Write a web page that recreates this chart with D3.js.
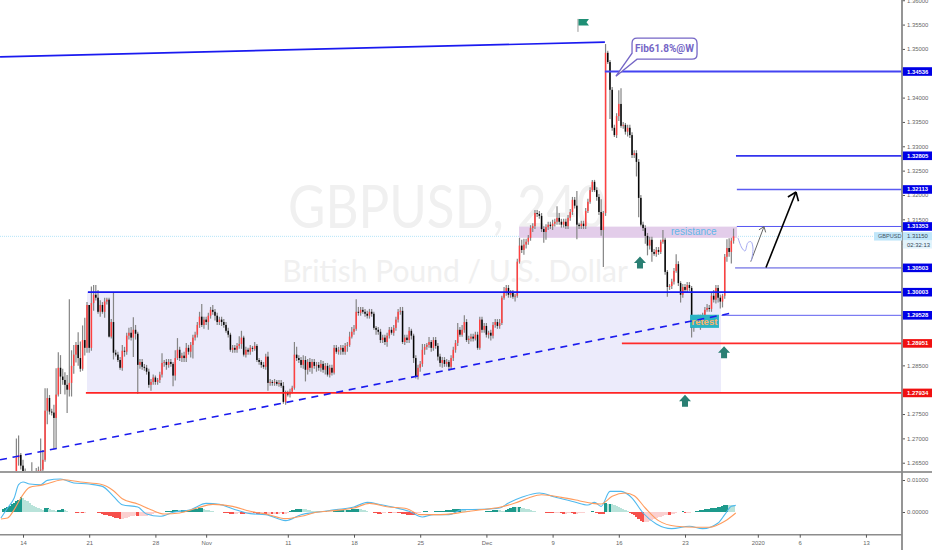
<!DOCTYPE html>
<html><head><meta charset="utf-8">
<script src="https://d3js.org/d3.v7.min.js"></script>
<style>
html,body{margin:0;padding:0;background:#fff}
svg{display:block}
text{font-family:"Liberation Sans",sans-serif}
</style></head><body>
<svg id="c" width="932" height="550"></svg>
<script>
// ---------- DATA (prices in pips: 13000 = 1.30000; bar 0 = Mon 14 Oct) ----------
const firstBar = -10;
const closes = [
12607,12615,12611,12603,12609,12615,12619,12660,12666,12644,
12632,12623,12617,12619,12627,12623,12629,12634,12636,12656,
12757,12783,12755,12753,12742,12790,12845,12827,12820,12810,
12800,12814,12849,12872,12892,12865,12843,12902,12886,12974,
12886,12978,12995,12989,12960,12974,12960,12981,12985,12909,
12939,12876,12872,12861,12845,12880,12878,12911,12917,12907,
12923,12915,12851,12857,12847,12845,12837,12810,12816,12825,
12816,12820,12831,12855,12857,12851,12857,12853,12829,12865,
12882,12865,12870,12865,12886,12878,12892,12907,12913,12933,
12950,12933,12944,12939,12952,12964,12960,12952,12939,12944,
12939,12933,12921,12913,12882,12886,12882,12890,12894,12907,
12872,12882,12878,12886,12884,12890,12861,12857,12851,12847,
12868,12814,12816,12814,12816,12812,12814,12808,12775,12794,
12790,12796,12804,12872,12865,12861,12851,12861,12841,12857,
12845,12857,12849,12851,12845,12853,12841,12849,12831,12845,
12835,12886,12878,12882,12886,12878,12890,12892,12909,12919,
12925,12960,12958,12964,12960,12956,12952,12960,12956,12927,
12923,12919,12902,12907,12898,12911,12923,12917,12927,12944,
12960,12962,12898,12907,12902,12921,12911,12865,12827,12845,
12853,12882,12888,12892,12898,12886,12902,12890,12868,12855,
12861,12853,12857,12847,12865,12882,12896,12923,12913,12923,
12939,12902,12905,12909,12905,12913,12886,12944,12923,12931,
12913,12917,12911,12933,12939,12931,12937,12989,12999,13009,
12995,12999,12991,12993,13063,13096,13087,13098,13104,13112,
13132,13136,13163,13161,13157,13130,13124,13134,13139,13136,
13141,13145,13153,13145,13139,13145,13136,13153,13165,13190,
13178,13139,13136,13141,13136,13167,13186,13210,13227,13210,
13196,13165,13128,13163,13492,13473,13416,13338,13323,13362,
13387,13342,13344,13330,13338,13323,13282,13286,13268,13194,
13139,13132,13116,13096,13108,13083,13079,13087,13083,13104,
13108,13042,13011,13013,13022,13044,13058,13019,12995,13011,
13005,13015,13009,12927,12944,12939,12948,12939,12952,12964,
12968,12966,12993,12985,13009,12989,12981,12993,13073,13091,
13083,13106,13115];
const upWick = [
4,4,4,6,4,4,6,40,40,4,
12,6,6,8,24,6,10,8,64,20,
46,20,6,6,16,54,32,26,16,16,
20,172,32,20,6,26,34,30,46,6,
0,34,20,20,16,10,6,8,4,4,
6,60,6,6,6,12,8,6,10,12,
26,10,4,6,6,6,6,6,6,6,
4,4,6,20,4,6,6,6,4,16,
24,6,6,8,10,6,6,6,6,6,
10,26,6,6,6,6,10,6,6,6,
6,6,6,6,4,6,6,6,16,14,
4,6,4,6,4,8,4,4,4,6,
6,10,6,4,6,4,6,6,8,4,
4,6,4,26,16,6,6,10,8,6,
8,6,6,6,6,8,6,6,6,6,
6,6,6,6,6,6,6,6,10,10,
8,26,10,6,6,6,6,6,6,4,
4,6,6,6,6,6,6,6,6,6,
6,8,8,6,6,8,4,4,6,6,
6,12,6,4,10,4,6,6,6,6,
6,6,6,4,6,6,6,14,6,10,
14,6,6,6,6,6,6,6,6,6,
6,4,6,6,6,6,8,4,12,6,
6,6,6,4,6,16,12,12,6,6,
6,6,6,6,6,6,6,6,6,6,
8,6,24,10,6,6,6,6,6,6,
6,30,4,6,6,6,6,6,4,4,
6,6,26,4,18,4,4,6,6,6,
28,32,6,4,6,6,6,6,6,6,
6,6,6,6,6,6,6,6,6,4,
20,4,4,4,6,6,20,6,4,6,
6,6,6,4,4,6,6,6,6,6,
8,6,6,12,6,6,6,4,6,18,
20,6,16];
const downWick = [
4,4,4,4,4,4,6,40,16,8,
8,6,4,6,6,6,6,6,10,8,
4,28,6,6,64,64,4,36,10,20,
48,14,28,16,16,16,6,4,16,10,
10,6,16,6,4,10,4,12,6,2,
4,14,4,4,4,6,10,6,8,6,
40,12,60,8,6,6,6,6,12,6,
6,6,6,6,8,10,6,6,22,10,
4,6,8,8,8,6,12,28,6,6,
6,4,8,6,16,6,6,10,6,6,
8,6,4,6,4,6,6,6,6,10,
4,6,6,6,6,4,4,6,6,4,
6,16,6,6,6,4,6,4,4,6,
4,6,4,4,6,6,6,8,24,10,
8,12,6,12,6,8,6,10,4,6,
6,4,4,6,10,6,6,12,4,4,
6,4,6,6,4,6,6,6,6,4,
10,6,6,6,6,10,6,4,6,6,
6,6,4,6,6,6,8,10,4,6,
8,6,10,6,6,8,6,6,8,8,
10,6,6,8,6,6,6,6,4,4,
6,4,8,6,6,4,4,4,6,6,
6,8,10,6,6,6,6,4,4,6,
6,6,4,10,4,4,6,10,8,6,
6,8,6,6,6,6,22,16,6,6,
8,6,6,6,6,6,6,6,6,6,
6,30,6,6,6,6,4,4,4,4,
8,6,12,76,6,4,60,6,4,6,
10,4,6,6,10,6,6,6,30,40,
4,6,16,20,8,20,4,6,6,4,
4,6,20,6,6,6,4,6,16,6,
6,6,6,20,8,12,6,16,6,6,
4,6,6,6,8,10,14,12,6,10,
10,24,6];

// MACD panel, values in 1e-5
const histFirstBar = -9;
const histValues = [
93,124,155,186,248,279,341,372,465,
435,372,341,279,217,186,155,124,93,62,
124,124,93,62,50,40,62,62,93,70,
40,-15,15,-15,-30,-31,-25,-31,-25,-15,
-15,-10,-10,-15,-30,-40,-62,-80,-100,-120,
-135,-155,-175,-200,-232,-215,-200,-185,-165,-140,
-115,-100,-115,-115,-115,-115,-115,-95,-80,-60,
-40,-25,-15,5,15,20,25,35,50,62,
65,60,62,62,62,65,75,85,93,105,
110,115,90,75,55,40,20,5,0,-10,
-15,-25,-35,-45,-55,-62,-55,-50,-45,-55,
-65,-60,-50,-40,-30,-35,-50,-55,-50,-50,
-60,-60,-50,-55,-55,-60,-50,-45,-55,-50,
-30,20,72,75,80,85,93,90,80,65,
50,40,30,25,20,15,20,20,15,15,
10,25,60,65,70,75,70,70,75,80,
90,100,103,90,70,50,30,15,-15,-25,
-35,-50,-55,-40,-25,-15,-30,-35,-30,-25,
-30,-40,-50,-70,-85,-95,-100,-103,-70,-45,
-25,10,30,30,15,5,15,25,30,35,
40,45,50,60,70,80,85,90,93,90,
85,40,30,15,10,10,5,10,15,15,
20,25,35,60,72,72,60,40,35,60,
100,130,145,146,145,145,140,125,105,85,
65,45,25,10,0,-10,-15,-20,-30,-40,
-45,-40,-35,-30,-40,-50,-50,-45,-40,-45,
-50,-50,-45,-30,-20,-10,10,15,20,-10,
-35,-50,-60,-70,280,260,260,240,220,200,
170,130,90,50,20,-30,-60,-100,-160,-230,
-280,-310,-310,-300,-270,-240,-220,-200,-170,-150,
-130,-100,-85,-95,-70,-50,-25,-10,10,20,
-30,-30,-20,-10,10,20,30,50,65,80,
95,105,120,125,130,150,170,200,215,230,
225,220,215];
const macdBars = [-10,-7,-4,-2,0,3,8,11,17,23,30,36,41,45,52,56,62,68,76,83,89,95,103,110,119,126,133,142,150,156,162,168,175,181,186,193,199,208,216,220,226,234,241,250,256,259,262,266,271,276,281,287,294,302,308,315,318,321,323];
const macdVals = [-187,125,437,853,936,874,853,989,1030,906,874,801,489,229,156,-62,-135,-10,73,270,239,104,-52,-83,-270,-83,-10,73,156,302,229,146,21,-156,-83,-83,73,83,125,281,458,593,468,312,218,302,177,645,645,437,-31,-374,-520,-447,-520,-343,-83,177,208];
const signalBars = [-10,-7,-4,-1,3,8,12,18,26,36,41,45,52,58,64,71,79,86,95,103,110,119,126,133,141,150,157,165,174,180,189,195,199,208,216,223,229,235,244,252,258,262,267,273,277,282,288,296,305,311,318,323];
const signalVals = [-218,-187,73,437,770,832,906,1010,936,853,666,416,250,73,-62,-31,125,239,177,21,-62,-208,-135,-10,42,125,270,166,104,-83,-83,-52,-10,73,146,281,437,541,458,354,270,250,489,593,510,125,-270,-447,-478,-478,-291,-31];

// axis labels
const priceTicks = [13600,13550,13500,13450,13400,13350,13300,13250,13200,13150,13100,13050,13000,12950,12900,12850,12800,12750,12700,12650];
const macdTicks = [0,1000];
const timeBars = [0,30,60,83,120,150,180,210,240,270,300,333,352,382];
const timeLabels = ["14","21","28","Nov","11","18","25","Dec","9","16","23","2020","6","13"];

// horizontal levels: price (pips), first bar, colour, width
const levelPrices = [13453.6,13280.5,13211.3,13135.3,13050.3,13000.3,12952.8,12895.1,12793.4];
const levelStart  = [263.7,323.1,323.5,323.5,322.7,29.4,316.5,271.4,28.5];
const levelColors = ["#4343f2","#3434ee","#5a5af2","#5656f2","#9a9aec","#1414f0","#5f5ff0","#ff2a2a","#ff2424"];
const levelWidths = [1.8,1.8,1.4,1,1.8,1.7,1,1.7,1.7];
const levelTags   = ["1.34536","1.32805","1.32113","1.31353","1.30503","1.30003","1.29528","1.28951","1.27934"];
const tagColors   = ["#0000e6","#0000e6","#0000e6","#0000e6","#0000e6","#0000e6","#0000e6","#f01010","#f01010"];
const lastPrice = 13115;

// drawn lines: [bar, pips]
const topLine = [[-10.4,13483.5],[263.7,13514]];
const trendLine = [[-10.4,12656],[321.7,12958]];
const blackArrow = [[336.7,13051],[350.3,13206]];
const greyArrow = [[329.8,13063],[335.8,13135]];
const wave = [[324,13112],[325.8,13091],[327.2,13085],[328.5,13102],[329.9,13104],[330.8,13091],[330.1,13065]];
const upArrows = [[279.6,13073.5],[317.7,12889],[300,12789.5]];
const rangeBox = [29,316.3,13000.3,12793.4];
const resistBox = [224.8,323.6,13135,13112];
const retestBox = [302.3,315.4,12954,12927];

// ---------- SCALES ----------
const W=932,paneR=902,mainB=471,macdT=473,macdB=534.5;
const x=d3.scaleLinear().domain([0,300]).range([23,685]);
const y=d3.scaleLinear().domain([13600.5,12633]).range([0,mainB]);
const ym=d3.scaleLinear().domain([1250,-703]).range([472,macdB]);
const svg=d3.select("#c");
const defs=svg.append("defs");
defs.append("clipPath").attr("id","mc").append("rect").attr("width",paneR).attr("height",mainB);
const main=svg.append("g").attr("clip-path","url(#mc)");
const line=d3.line().x(d=>x(d[0])).y(d=>y(d[1]));

// watermark
main.append("text").attr("x",288).attr("y",228).attr("textLength",318).attr("lengthAdjust","spacingAndGlyphs")
  .style("font-family","Lato").style("font-size","60px").attr("fill","#f0f0f0").text("GBPUSD, 240");
main.append("text").attr("x",455).attr("y",282).attr("text-anchor","middle")
  .style("font-family","Lato").style("font-size","30px").attr("fill","#f0f0f0").text("British Pound / U.S. Dollar");

// boxes
function box(g,b,fill){return g.append("rect").attr("x",x(b[0])).attr("width",x(b[1])-x(b[0])).attr("y",y(b[2])).attr("height",y(b[3])-y(b[2])).attr("fill",fill);}
box(main,rangeBox,"#ecebfb");
main.append("line").attr("x1",0).attr("x2",paneR).attr("y1",y(lastPrice)).attr("y2",y(lastPrice))
  .attr("stroke","#b5e4f8").attr("stroke-width",1).attr("stroke-dasharray","1 1");
box(main,resistBox,"#e3cdea");

// candles
const bars=closes.map((c,k)=>{const o=k?closes[k-1]:c+8,top=Math.max(o,c),bot=Math.min(o,c);
  return {i:firstBar+k,o,c,h:top+upWick[k],l:bot-downWick[k]};});
const cg=main.append("g");
cg.selectAll("line").data(bars).join("line")
  .attr("x1",d=>x(d.i)).attr("x2",d=>x(d.i)).attr("y1",d=>y(d.h)).attr("y2",d=>y(d.l))
  .attr("stroke","#858585").attr("stroke-width",1.2);
cg.selectAll("rect").data(bars).join("rect")
  .attr("x",d=>x(d.i)-0.75).attr("width",1.5)
  .attr("y",d=>y(Math.max(d.o,d.c))).attr("height",d=>Math.max(0.8,Math.abs(y(d.o)-y(d.c))))
  .attr("fill",d=>d.c>=d.o?"#ff4040":"#050505");

main.append("text").attr("x",x(304)).attr("y",y(13117)).attr("text-anchor","middle")
  .style("font-size","10px").attr("fill","#62b6e8").text("resistance");

// levels
const levelsData=levelPrices.map((p,k)=>({p,s:levelStart[k],col:levelColors[k],w:levelWidths[k]}));
main.selectAll("line.level").data(levelsData).join("line").attr("class","level")
  .attr("x1",d=>x(d.s)).attr("x2",paneR).attr("y1",d=>y(d.p)).attr("y2",d=>y(d.p))
  .attr("stroke",d=>d.col).attr("stroke-width",d=>d.w);

main.append("path").attr("d",line(topLine)).attr("fill","none").attr("stroke","#1a1af0").attr("stroke-width",1.7);

// retest label
box(main,retestBox,"#2bb3c4");
main.append("text").attr("x",x(308.8)).attr("y",y(12954)+10).attr("text-anchor","middle")
  .style("font-size","9.5px").style("font-weight","bold").attr("fill","#ffb468").text("retest");
main.append("path").attr("d",line(trendLine)).attr("fill","none").attr("stroke","#1a1aee").attr("stroke-width",1.6).attr("stroke-dasharray","7 5.7");

// arrows
function headed(pts,col,w,len){
  main.append("path").attr("d",line(pts)).attr("fill","none").attr("stroke",col).attr("stroke-width",w);
  const p=[x(pts[1][0]),y(pts[1][1])],a=Math.atan2(p[1]-y(pts[0][1]),p[0]-x(pts[0][0]));
  [a+2.5,a-2.5].forEach(t=>main.append("line").attr("x1",p[0]).attr("y1",p[1])
    .attr("x2",p[0]+len*Math.cos(t)).attr("y2",p[1]+len*Math.sin(t)).attr("stroke",col).attr("stroke-width",w));
}
headed(blackArrow,"#000",1.6,9.5);
headed(greyArrow,"#666",1,6);
main.append("path").attr("d",d3.line().x(d=>x(d[0])).y(d=>y(d[1])).curve(d3.curveCatmullRom)(wave))
  .attr("fill","none").attr("stroke","#a3a8f2").attr("stroke-width",1);

// up arrows
main.selectAll("path.up").data(upArrows).join("path").attr("class","up")
  .attr("transform",d=>`translate(${x(d[0])},${y(d[1])})`)
  .attr("d","M0 0L6 6.5H3V12H-3V6.5H-6Z").attr("fill","#2a7f73");

// flag
const fg=main.append("g").attr("transform",`translate(${x(251.5)},${y(13535)})`);
fg.append("line").attr("x1",0).attr("x2",0).attr("y1",0).attr("y2",-13).attr("stroke","#999").attr("stroke-width",1);
fg.append("path").attr("d","M0.5 -13L11 -13L8.5 -9.7L11 -6.5L0.5 -6.5Z").attr("fill","#1f8f75");

// callout
const cb=main.append("g").attr("transform",`translate(${x(276)},${y(13522)})`);
const tip=[x(268.7)-x(276),y(13444)-y(13522)];
cb.append("path").attr("fill","#fff").attr("stroke","#7566c6").attr("stroke-width",1.3)
  .attr("d",`M5 0H60Q65 0 65 5V16Q65 21 60 21H5L${tip[0]} ${tip[1]}L0 15V5Q0 0 5 0Z`);
cb.append("text").attr("x",32.5).attr("y",14).attr("text-anchor","middle")
  .style("font-family","Roboto").style("font-size","10px").style("font-weight","bold").attr("fill","#7566c6").text("Fib61.8%@W");

// MACD panel
const hg=svg.append("g");
const hist=histValues.map((v,k)=>({i:histFirstBar+k,v,prev:k?histValues[k-1]:0}));
hg.selectAll("rect").data(hist).join("rect")
  .attr("x",d=>x(d.i)-1.25).attr("width",2.5)
  .attr("y",d=>Math.min(ym(d.v),ym(0))).attr("height",d=>Math.abs(ym(d.v)-ym(0)))
  .attr("shape-rendering","crispEdges")
  .attr("fill",d=>d.v>=0?(d.v>=d.prev?"#1d9a8c":"#b9e3da"):(d.v<d.prev?"#f6504c":"#fbd0d0"));
const ml=d3.line().curve(d3.curveMonotoneX);
const series=(b,v)=>b.map((n,k)=>[x(n),ym(v[k])]);
svg.append("path").attr("d",ml(series(macdBars,macdVals))).attr("fill","none").attr("stroke","#4fb9ee").attr("stroke-width",1.1);
svg.append("path").attr("d",ml(series(signalBars,signalVals))).attr("fill","none").attr("stroke","#ff9c5e").attr("stroke-width",1.1);

// frame
svg.append("line").attr("x1",0).attr("x2",W).attr("y1",472).attr("y2",472).attr("stroke","#7b7b7b").attr("stroke-width",1.6);
svg.append("line").attr("x1",0).attr("x2",paneR).attr("y1",534.7).attr("y2",534.7).attr("stroke","#8c8c8c").attr("stroke-width",1.6);

// axes: labels hidden by a level tag in the reference stay as tick marks only
const fmt=d=>(d/10000).toFixed(5);
const hidden=d=>levelPrices.some(p=>Math.abs(y(p)-y(d))<5)||(y(d)>y(lastPrice)-5&&y(d)<y(lastPrice)+13);
function style(g){g.select(".domain").remove();g.selectAll("text").attr("fill","#666").style("font-size","5.9px").style("font-family","Liberation Sans");g.selectAll("line").attr("stroke","#555");}
svg.append("g").attr("transform",`translate(${paneR},0)`).call(d3.axisRight(y).tickValues(priceTicks).tickFormat(d=>hidden(d)?"":fmt(d)).tickSize(3).tickPadding(2)).call(style);
svg.append("g").attr("transform",`translate(${paneR},0)`).call(d3.axisRight(ym).tickValues(macdTicks).tickFormat(d=>(d/100000).toFixed(5)).tickSize(3).tickPadding(2)).call(style);
svg.append("g").attr("transform",`translate(0,534.7)`).call(d3.axisBottom(x).tickValues(timeBars).tickFormat((d,k)=>timeLabels[k]).tickSize(3).tickPadding(3)).call(style);
svg.append("line").attr("x1",paneR).attr("x2",paneR).attr("y1",0).attr("y2",550).attr("stroke","#8a8a8a").attr("stroke-width",1.8);

// tags
const tags=svg.append("g");
levelPrices.forEach((p,k)=>{
  tags.append("rect").attr("x",paneR+0.9).attr("width",W-paneR).attr("y",y(p)-4.3).attr("height",8.6).attr("fill",tagColors[k]);
  tags.append("text").attr("x",paneR+5).attr("y",y(p)+2).style("font-size","5.9px").style("font-weight","bold").attr("fill","#fff").text(levelTags[k]);
});
const ly=y(lastPrice);
tags.append("rect").attr("x",874).attr("y",ly-4.2).attr("width",28).attr("height",8.4).attr("fill","#bfe6fa");
tags.append("text").attr("x",878).attr("y",ly+2).style("font-size","5.6px").attr("fill","#456").text("GBPUSD");
tags.append("rect").attr("x",paneR+0.9).attr("y",ly-4.2).attr("width",W-paneR).attr("height",8.4).attr("fill","#bfe6fa");
tags.append("text").attr("x",paneR+5).attr("y",ly+2).style("font-size","5.9px").attr("fill","#345").text(fmt(lastPrice));
tags.append("rect").attr("x",paneR+0.9).attr("y",ly+4.2).attr("width",W-paneR).attr("height",8).attr("fill","#e2f3fc");
tags.append("text").attr("x",paneR+5).attr("y",ly+10.2).style("font-size","5.9px").attr("fill","#345").text("02:32:13");
</script>
</body></html>
